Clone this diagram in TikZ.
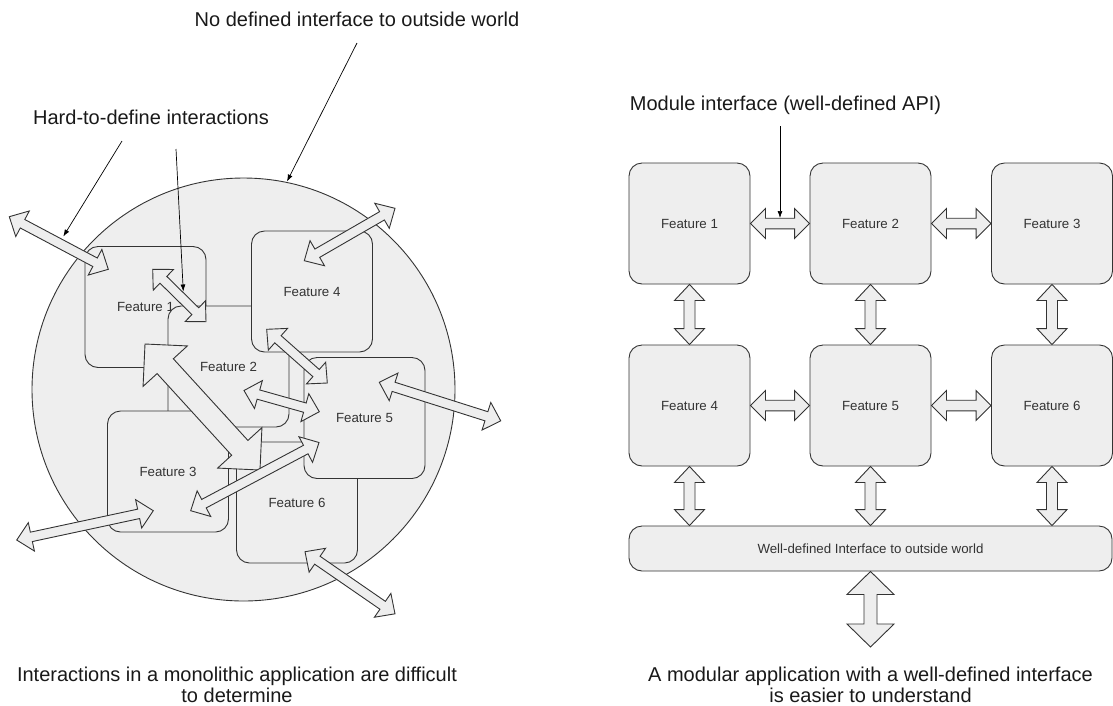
\documentclass[tikz,border=0pt]{standalone}
\usepackage{fontspec}
\setmainfont{Liberation Sans}
\usetikzlibrary{calc,arrows.meta}
\definecolor{boxfill}{HTML}{EEEEEE}
\definecolor{boxline}{HTML}{333333}
\definecolor{txt}{HTML}{333333}
\tikzset{
  fbox/.style={draw=boxline, fill=boxfill, rounded corners=13pt, minimum width=121pt,
    minimum height=121pt, inner sep=0pt, line width=0.9pt,
    font=\fontsize{13.3}{16}\selectfont, text=txt},
  ibox/.style={fbox, minimum width=483pt, minimum height=45pt},
  arrowbox/.style={draw=boxline, fill=boxfill, line width=0.9pt, line join=miter},
  lbl/.style={font=\fontsize{20}{24}\selectfont, text=black!90, inner sep=0pt, anchor=base},
  ptr/.style={draw=black, line width=0.7pt, -{Latex[length=7pt,width=5pt]}},
  circ/.style={draw=boxline, fill=boxfill, line width=0.9pt}
}
% double block arrow: #1 tip, #2 tip, #3 shaft half width, #4 head half width, #5 head length
\newcommand\dblarr[5]{%
  \coordinate (da1) at ($(#1)!#5!(#2)$);
  \coordinate (da2) at ($(#2)!#5!(#1)$);
  \draw[arrowbox] (#1) -- ($(da1)!#4!90:(#2)$) -- ($(da1)!#3!90:(#2)$)
    -- ($(da2)!#3!-90:(#1)$) -- ($(da2)!#4!-90:(#1)$) -- (#2)
    -- ($(da2)!#4!90:(#1)$) -- ($(da2)!#3!90:(#1)$)
    -- ($(da1)!#3!-90:(#2)$) -- ($(da1)!#4!-90:(#2)$) -- cycle;}
\begin{document}
\begin{tikzpicture}[x=1pt,y=-1pt]
\useasboundingbox (0,0) rectangle (1113,705);
% ---------------- left: monolith ----------------
\node[circ, circle, minimum size=423pt, inner sep=0pt] (world) at (243.5,389.5) {};
\node[fbox] (lf1) at (145.5,307) {Feature 1};
\node[fbox] (lf2) at (228.5,366.5) {Feature 2};
\node[fbox] (lf4) at (312,291.5) {Feature 4};
\node[fbox] (lf3) at (168,471.5) {Feature 3};
\node[fbox] (lf6) at (297,502.5) {Feature 6};
\node[fbox] (lf5) at (364.5,418) {Feature 5};

\coordinate (a1s) at (9.3,216.7);   \coordinate (a1e) at (108.3,269.3);
\coordinate (a2s) at (152.7,269.3); \coordinate (a2e) at (206,321.7);
\coordinate (a3s) at (395,208.3);   \coordinate (a3e) at (304.3,260.7);
\coordinate (a4s) at (266.7,329.3); \coordinate (a4e) at (327.3,383);
\coordinate (a5s) at (244,390.5);   \coordinate (a5e) at (319.3,411.7);
\coordinate (a6s) at (145,344);     \coordinate (a6e) at (260,470);
\coordinate (a7s) at (190.7,510.7); \coordinate (a7e) at (319,442.5);
\coordinate (a8s) at (16.7,540);    \coordinate (a8e) at (153.3,510.7);
\coordinate (a9s) at (379.3,382.3); \coordinate (a9e) at (500.7,420.8);
\coordinate (a10s) at (305,551.7);  \coordinate (a10e) at (395,613.8);

\dblarr{a6s}{a6e}{11pt}{30pt}{30pt}
\dblarr{a1s}{a1e}{4.8pt}{14.5pt}{15pt}
\dblarr{a2s}{a2e}{4.8pt}{14.5pt}{15pt}
\dblarr{a3s}{a3e}{4.8pt}{14.5pt}{15pt}
\dblarr{a4s}{a4e}{4.8pt}{14.5pt}{15pt}
\dblarr{a5s}{a5e}{4.8pt}{14.5pt}{15pt}
\dblarr{a7s}{a7e}{4.8pt}{14.5pt}{15pt}
\dblarr{a8s}{a8e}{4.8pt}{14.5pt}{15pt}
\dblarr{a9s}{a9e}{4.8pt}{14.5pt}{15pt}
\dblarr{a10s}{a10e}{4.8pt}{14.5pt}{15pt}

\node[lbl] (tnodef) at (357,26) {No defined interface to outside world};
\node[lbl] (thard) at (151,124.3) {Hard-to-define interactions};
\coordinate (p0s) at (357,43);   \coordinate (p0e) at (287,181.5);
\coordinate (p1s) at (122,141);  \coordinate (p1e) at (63.3,236.5);
\coordinate (p2s) at (176,149);  \coordinate (p2e) at (183.3,291.5);
\draw[ptr] (p0s) -- (p0e);
\draw[ptr] (p1s) -- (p1e);
\draw[ptr] (p2s) -- (p2e);

\node[lbl] (capl1) at (237,681) {Interactions in a monolithic application are difficult};
\node[lbl] (capl2) at (237,702) {to determine};

% ---------------- right: modular ----------------
\node[fbox] (rf1) at (689.5,223.5) {Feature 1};
\node[fbox] (rf2) at (870.5,223.5) {Feature 2};
\node[fbox] (rf3) at (1052,223.5) {Feature 3};
\node[fbox] (rf4) at (689.5,405.5) {Feature 4};
\node[fbox] (rf5) at (870.5,405.5) {Feature 5};
\node[fbox] (rf6) at (1052,405.5) {Feature 6};
\node[ibox] (iface) at (870.5,548.5) {Well-defined Interface to outside world};

\dblarr{rf1.east}{rf2.west}{5.3pt}{15pt}{15pt}
\dblarr{rf2.east}{rf3.west}{5.3pt}{15pt}{15pt}
\dblarr{rf4.east}{rf5.west}{5.3pt}{15pt}{15pt}
\dblarr{rf5.east}{rf6.west}{5.3pt}{15pt}{15pt}
\dblarr{rf1.south}{rf4.north}{5.5pt}{15pt}{16pt}
\dblarr{rf2.south}{rf5.north}{5.5pt}{15pt}{16pt}
\dblarr{rf3.south}{rf6.north}{5.5pt}{15pt}{16pt}
\coordinate (i4) at (rf4.south |- iface.north);
\coordinate (i5) at (rf5.south |- iface.north);
\coordinate (i6) at (rf6.south |- iface.north);
\dblarr{rf4.south}{i4}{5.5pt}{15pt}{16pt}
\dblarr{rf5.south}{i5}{5.5pt}{15pt}{16pt}
\dblarr{rf6.south}{i6}{5.5pt}{15pt}{16pt}
\coordinate (outw) at (870.5,647);
\dblarr{iface.south}{outw}{6.5pt}{23.5pt}{23pt}

\node[lbl] (tapi) at (785.5,110.5) {Module interface (well-defined API)};
\coordinate (p3s) at (780,126); \coordinate (p3e) at (780,218);
\draw[ptr] (p3s) -- (p3e);

\node[lbl] (capr1) at (870.5,681) {A modular application with a well-defined interface};
\node[lbl] (capr2) at (870.5,702) {is easier to understand};
\end{tikzpicture}
\end{document}
